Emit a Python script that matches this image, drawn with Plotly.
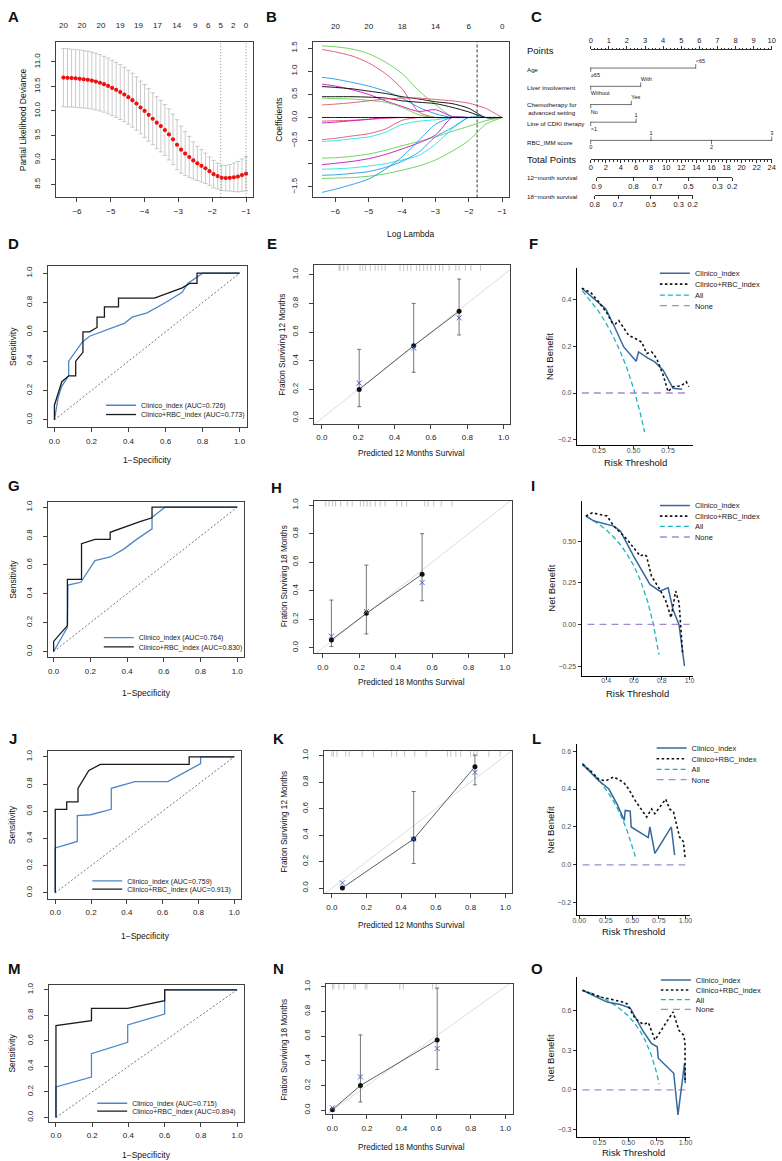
import plotly.graph_objects as go

W, H = 782, 1161
FONT = "Liberation Sans, Arial, Helvetica, sans-serif"

# ======================= DATA =======================
# ---- A: cross-validated partial likelihood deviance ----
A_loglam = [-6.40, -6.28, -6.16, -6.04, -5.92, -5.80, -5.68, -5.56, -5.44, -5.32, -5.20, -5.08,
            -4.96, -4.84, -4.72, -4.60, -4.48, -4.36, -4.24, -4.12, -4.00, -3.88, -3.76, -3.64,
            -3.52, -3.40, -3.28, -3.16, -3.04, -2.92, -2.80, -2.68, -2.56, -2.44, -2.32, -2.20,
            -2.08, -1.96, -1.84, -1.72, -1.60, -1.48, -1.36, -1.24, -1.12, -1.00]
A_dev = [10.68, 10.675, 10.67, 10.665, 10.655, 10.645, 10.635, 10.62, 10.60, 10.575, 10.545, 10.51,
         10.47, 10.43, 10.385, 10.335, 10.28, 10.22, 10.15, 10.07, 10.00, 9.92, 9.84, 9.76,
         9.69, 9.61, 9.52, 9.42, 9.31, 9.21, 9.13, 9.06, 8.99, 8.93, 8.88, 8.83,
         8.77, 8.71, 8.67, 8.635, 8.63, 8.635, 8.645, 8.66, 8.69, 8.72]
A_se = [0.595, 0.595, 0.59, 0.59, 0.59, 0.585, 0.585, 0.58, 0.58, 0.575, 0.57, 0.57,
        0.565, 0.56, 0.56, 0.555, 0.55, 0.55, 0.545, 0.54, 0.54, 0.535, 0.53, 0.53,
        0.525, 0.52, 0.52, 0.515, 0.51, 0.48, 0.45, 0.42, 0.38, 0.35, 0.33, 0.31,
        0.29, 0.28, 0.265, 0.255, 0.26, 0.27, 0.29, 0.31, 0.33, 0.35]
A_top_ticks = [-6.40, -5.85, -5.29, -4.72, -4.18, -3.62, -3.05, -2.50, -2.12, -1.75, -1.38, -1.00]
A_top_labels = ["20", "20", "20", "19", "19", "17", "14", "9", "6", "5", "2", "0"]
A_vlines = [-1.75, -1.00]

# ---- B: LASSO coefficient paths ----
B_loglam = [-6.4, -6.0, -5.5, -5.0, -4.5, -4.0, -3.5, -3.0, -2.5, -2.0, -1.5, -1.0]
B_paths = [
    [1.55, 1.53, 1.48, 1.38, 1.20, 0.95, 0.58, 0.28, 0.02, 0, 0, 0],
    [1.47, 1.42, 1.33, 1.18, 0.95, 0.62, 0.12, 0, 0, 0, 0, 0],
    [0.87, 0.83, 0.76, 0.68, 0.57, 0.42, 0.22, 0.08, 0, 0, 0, 0],
    [0.72, 0.68, 0.60, 0.50, 0.36, 0.24, 0.13, 0.17, 0.02, 0, 0, 0],
    [0.67, 0.65, 0.62, 0.57, 0.52, 0.45, 0.40, 0.34, 0.30, 0.20, 0.0, 0],
    [0.45, 0.45, 0.45, 0.44, 0.42, 0.36, 0.33, 0.30, 0.22, 0.12, 0.0, 0],
    [0.42, 0.41, 0.40, 0.37, 0.33, 0.22, 0.06, 0, 0, 0, 0, 0],
    [0.27, 0.29, 0.32, 0.36, 0.40, 0.42, 0.42, 0.39, 0.36, 0.31, 0.20, 0],
    [-0.48, -0.45, -0.40, -0.35, -0.25, -0.06, 0, 0, 0, 0, 0, 0],
    [-0.52, -0.50, -0.46, -0.42, -0.32, -0.15, -0.08, -0.05, 0, 0, 0, 0],
    [-0.08, -0.07, -0.06, -0.04, -0.02, 0, 0, 0, 0, 0, 0, 0],
    [-0.12, -0.10, -0.07, -0.04, 0, 0, 0, 0, 0, 0, 0, 0],
    [-0.88, -0.87, -0.84, -0.79, -0.71, -0.61, -0.52, -0.42, -0.30, -0.19, -0.07, 0],
    [-1.02, -0.99, -0.95, -0.89, -0.80, -0.68, -0.55, -0.38, 0, 0, 0, 0],
    [-1.12, -1.11, -1.09, -1.05, -1.00, -0.92, -0.82, -0.58, -0.25, 0, 0, 0],
    [-1.25, -1.24, -1.21, -1.17, -1.08, -0.95, -0.75, -0.42, -0.22, 0, 0, 0],
    [-1.32, -1.31, -1.30, -1.27, -1.22, -1.14, -1.05, -0.92, -0.73, -0.50, -0.15, 0],
    [-1.62, -1.55, -1.45, -1.33, -1.12, -0.85, -0.50, -0.15, 0, 0, 0, 0],
    [0, 0, 0, 0, 0, 0, 0, 0, 0, 0, 0, 0],
]
B_colors = ["#61D04F", "#DF536B", "#2297E6", "#CD0BBC", "#000000", "#000000", "#61D04F", "#DF536B",
            "#DF536B", "#28E2E5", "#DF536B", "#CD0BBC", "#61D04F", "#CD0BBC", "#28E2E5", "#2297E6",
            "#61D04F", "#2297E6", "#000000"]
B_top_ticks = [-6, -5, -4, -3, -2, -1]
B_top_labels = ["20", "20", "18", "14", "6", "0"]
B_vline = -1.75

# ---- C: nomogram ----
C_age_labels = ["<65", "≥65"]
C_age_points = [5.8, 0.0]
C_liver_labels = ["With", "Without"]
C_liver_points = [2.76, 0.0]
C_chemo_labels = ["Yes", "No"]
C_chemo_points = [2.24, 0.0]
C_cdki_labels = ["1", ">1"]
C_cdki_points = [2.51, 0.0]
C_rbc_labels = ["0", "1", "2", "3"]
C_rbc_points = [0.0, 3.33, 6.67, 10.0]
C_surv12_labels = ["0.9", "0.8", "0.7", "0.5", "0.3", "0.2"]
C_surv12_total = [0.78, 5.67, 8.80, 12.96, 16.80, 18.76]
C_surv18_labels = ["0.8", "0.7", "0.5", "0.3", "0.2"]
C_surv18_total = [0.52, 3.62, 7.99, 11.65, 13.53]

# ---- ROC curves ----
D_clin_fpr = [0, 0.02, 0.04, 0.077, 0.077, 0.15, 0.19, 0.27, 0.38, 0.42, 0.50, 0.60, 0.69, 0.72, 0.80, 1.0]
D_clin_tpr = [0, 0.15, 0.23, 0.30, 0.40, 0.53, 0.57, 0.61, 0.66, 0.70, 0.73, 0.80, 0.87, 0.93, 1.0, 1.0]
D_rbc_fpr = [0, 0, 0.04, 0.077, 0.115, 0.115, 0.154, 0.154, 0.19, 0.23, 0.23, 0.27, 0.27, 0.346, 0.346,
             0.54, 0.69, 0.73, 0.77, 0.77, 1.0]
D_rbc_tpr = [0, 0.10, 0.26, 0.30, 0.30, 0.40, 0.46, 0.60, 0.60, 0.63, 0.70, 0.70, 0.77, 0.77, 0.83,
             0.83, 0.90, 0.93, 0.93, 1.0, 1.0]
D_auc = ["0.726", "0.773"]

G_clin_fpr = [0, 0.075, 0.078, 0.148, 0.225, 0.308, 0.38, 0.452, 0.536, 0.536, 0.607, 1.0]
G_clin_tpr = [0, 0.168, 0.46, 0.48, 0.63, 0.655, 0.708, 0.777, 0.85, 0.93, 1.0, 1.0]
G_rbc_fpr = [0, 0, 0.075, 0.075, 0.152, 0.152, 0.225, 0.308, 0.308, 0.38, 0.47, 0.536, 0.536, 1.0]
G_rbc_tpr = [0, 0.07, 0.18, 0.50, 0.50, 0.747, 0.777, 0.777, 0.826, 0.86, 0.90, 0.926, 1.0, 1.0]
G_auc = ["0.764", "0.830"]

J_clin_fpr = [0, 0, 0.123, 0.123, 0.197, 0.313, 0.313, 0.445, 0.629, 0.812, 0.812, 1.0]
J_clin_tpr = [0, 0.33, 0.378, 0.568, 0.574, 0.614, 0.768, 0.817, 0.817, 0.95, 1.0, 1.0]
J_rbc_fpr = [0, 0, 0.064, 0.064, 0.127, 0.127, 0.1875, 0.252, 0.748, 0.748, 1.0]
J_rbc_tpr = [0, 0.614, 0.614, 0.669, 0.669, 0.768, 0.90, 0.944, 0.944, 1.0, 1.0]
J_auc = ["0.759", "0.913"]

M_clin_fpr = [0, 0, 0.196, 0.196, 0.396, 0.396, 0.6, 0.6, 1.0]
M_clin_tpr = [0, 0.239, 0.316, 0.499, 0.589, 0.725, 0.81, 1.0, 1.0]
M_rbc_fpr = [0, 0, 0.196, 0.196, 0.396, 0.6, 0.6, 1.0]
M_rbc_tpr = [0, 0.72, 0.758, 0.854, 0.854, 0.914, 1.0, 1.0]
M_auc = ["0.715", "0.894"]

# ---- Calibration ----
E_pred = [0.205, 0.505, 0.755]
E_obs = [0.200, 0.505, 0.745]
E_lo = [0.080, 0.320, 0.580]
E_hi = [0.480, 0.800, 0.970]
E_km = [0.245, 0.490, 0.700]
E_rug = [0.094, 0.10, 0.12, 0.143, 0.21, 0.225, 0.24, 0.266, 0.293, 0.31, 0.33, 0.348, 0.43, 0.45,
         0.47, 0.49, 0.52, 0.538, 0.56, 0.58, 0.60, 0.625, 0.647, 0.665, 0.70, 0.737, 0.755, 0.79,
         0.82, 0.873]

H_pred = [0.047, 0.239, 0.545]
H_obs = [0.056, 0.242, 0.516]
H_lo = [0.010, 0.098, 0.330]
H_hi = [0.335, 0.580, 0.800]
H_km = [0.082, 0.255, 0.458]
H_rug = [0.016, 0.034, 0.053, 0.07, 0.098, 0.134, 0.161, 0.206, 0.224, 0.243, 0.26, 0.288, 0.315,
         0.342, 0.406, 0.433, 0.46, 0.56, 0.578, 0.609, 0.65, 0.71]

K_pred = [0.061, 0.472, 0.825]
K_obs = [0.002, 0.371, 0.917]
K_lo = [0.001, 0.186, 0.780]
K_hi = [0.003, 0.730, 1.005]
K_km = [0.040, 0.370, 0.874]
K_rug = [0.0, 0.01, 0.03, 0.08, 0.10, 0.175, 0.24, 0.345, 0.374, 0.42, 0.478, 0.544, 0.667, 0.686,
         0.715, 0.743, 0.80, 0.819, 0.838, 0.905, 0.97]

N_pred = [0.0, 0.162, 0.606]
N_obs = [0.005, 0.200, 0.570]
N_lo = [0.004, 0.067, 0.330]
N_hi = [0.006, 0.610, 0.990]
N_km = [0.020, 0.270, 0.500]
N_rug = [0.0, 0.009, 0.038, 0.067, 0.124, 0.133, 0.19, 0.2, 0.39, 0.41, 0.58, 0.60]

# ---- Decision curves ----
F_all_t = [0.13, 0.20, 0.25, 0.30, 0.35, 0.40, 0.45, 0.50, 0.55, 0.58]
F_all_nb = [0.437, 0.387, 0.347, 0.300, 0.246, 0.183, 0.109, 0.020, -0.089, -0.167]
F_clin_t = [0.126, 0.214, 0.298, 0.357, 0.429, 0.519, 0.536, 0.607, 0.654, 0.714, 0.786, 0.852]
F_clin_nb = [0.448, 0.403, 0.360, 0.290, 0.197, 0.136, 0.176, 0.148, 0.133, 0.098, 0.020, 0.016]
F_rbc_t = [0.126, 0.190, 0.248, 0.310, 0.345, 0.369, 0.393, 0.429, 0.464, 0.512, 0.559, 0.595,
           0.631, 0.667, 0.714, 0.750, 0.786, 0.845, 0.881, 0.900]
F_rbc_nb = [0.448, 0.430, 0.390, 0.340, 0.300, 0.296, 0.310, 0.280, 0.247, 0.233, 0.218, 0.169,
            0.176, 0.148, 0.077, 0.006, 0.027, 0.031, 0.048, 0.027]
F_none_t = [0.126, 0.900]

I_all_t = [0.26, 0.30, 0.35, 0.40, 0.45, 0.50, 0.55, 0.60, 0.65, 0.70, 0.74, 0.78]
I_all_nb = [0.649, 0.629, 0.600, 0.567, 0.527, 0.480, 0.422, 0.350, 0.257, 0.133, 0.000, -0.182]
I_clin_t = [0.253, 0.312, 0.454, 0.502, 0.597, 0.715, 0.786, 0.846, 0.881, 0.924, 0.964]
I_clin_nb = [0.650, 0.620, 0.590, 0.560, 0.410, 0.240, 0.200, 0.220, 0.090, 0.000, -0.250]
I_rbc_t = [0.253, 0.300, 0.347, 0.406, 0.454, 0.550, 0.645, 0.668, 0.690, 0.726, 0.786, 0.830,
           0.867, 0.900, 0.925, 0.950]
I_rbc_nb = [0.650, 0.670, 0.660, 0.650, 0.590, 0.510, 0.410, 0.420, 0.410, 0.290, 0.210, 0.140,
            0.040, 0.200, 0.130, -0.170]
I_none_t = [0.265, 1.0]

L_all_t = [0.03, 0.10, 0.15, 0.20, 0.25, 0.30, 0.35, 0.40, 0.45, 0.50, 0.53]
L_all_nb = [0.536, 0.500, 0.471, 0.438, 0.400, 0.357, 0.308, 0.250, 0.182, 0.100, 0.042]
L_clin_t = [0.031, 0.186, 0.279, 0.356, 0.424, 0.433, 0.480, 0.489, 0.650, 0.665, 0.712, 0.867, 0.898]
L_clin_nb = [0.530, 0.443, 0.400, 0.320, 0.235, 0.287, 0.283, 0.200, 0.144, 0.200, 0.061, 0.200, 0.052]
L_rbc_t = [0.031, 0.108, 0.186, 0.247, 0.325, 0.418, 0.465, 0.526, 0.635, 0.681, 0.712, 0.814,
           0.851, 0.888, 0.944, 0.981, 0.997]
L_rbc_nb = [0.530, 0.495, 0.450, 0.443, 0.464, 0.435, 0.400, 0.340, 0.252, 0.295, 0.270, 0.347,
            0.295, 0.278, 0.148, 0.122, 0.035]
L_none_t = [0.031, 0.997]

O_all_t = [0.10, 0.20, 0.30, 0.40, 0.50, 0.55, 0.60, 0.65, 0.70, 0.74, 0.77]
O_all_nb = [0.756, 0.725, 0.686, 0.633, 0.560, 0.511, 0.450, 0.371, 0.267, 0.154, 0.043]
O_clin_t = [0.101, 0.316, 0.431, 0.517, 0.633, 0.704, 0.753, 0.762, 0.897, 0.934, 0.991, 0.997]
O_clin_nb = [0.754, 0.665, 0.646, 0.620, 0.440, 0.350, 0.326, 0.240, 0.126, -0.190, 0.200, 0.050]
O_rbc_t = [0.101, 0.259, 0.431, 0.489, 0.560, 0.633, 0.676, 0.733, 0.891, 0.943, 0.983, 0.995, 0.997]
O_rbc_nb = [0.754, 0.703, 0.670, 0.653, 0.540, 0.495, 0.510, 0.377, 0.590, 0.450, 0.414, 0.364, 0.075]
O_none_t = [0.101, 0.997]

# ======================= HELPERS =======================
layout = dict(width=W, height=H, autosize=False, margin=dict(l=0, r=0, t=0, b=0, pad=0),
              paper_bgcolor="white", plot_bgcolor="rgba(0,0,0,0)",
              font=dict(family=FONT, color="#1a1a1a"), showlegend=True)
annotations, shapes, traces = [], [], []


def xd(a, b):
    return [a / W, b / W]


def yd(t, b):
    return [1 - b / H, 1 - t / H]


def ax(n):
    return ("x" if n == 1 else f"x{n}"), ("y" if n == 1 else f"y{n}")


def akey(n):
    return ("xaxis" if n == 1 else f"xaxis{n}"), ("yaxis" if n == 1 else f"yaxis{n}")


def add_xy(xa, ya, **kw):
    kw.setdefault("showlegend", False)
    kw.setdefault("hoverinfo", "skip")
    traces.append(go.Scatter(xaxis=xa, yaxis=ya, **kw))


def add(n, **kw):
    xa, ya = ax(n)
    add_xy(xa, ya, **kw)


def text(px, py, s, size=8, angle=0, bold=False, anchor="center", color="#111"):
    annotations.append(dict(xref="paper", yref="paper", x=px / W, y=1 - py / H,
                            text=f"<b>{s}</b>" if bold else s, showarrow=False,
                            font=dict(size=size, family=FONT, color=color), textangle=angle,
                            xanchor=anchor, yanchor="middle", borderpad=0))


leg_count = [1]


def legend_at(text_px, py, size):
    leg_count[0] += 1
    name = f"legend{leg_count[0]}"
    layout[name] = dict(x=(text_px - 40) / W, y=1 - (py - 3) / H, xanchor="left", yanchor="middle",
                        bgcolor="rgba(0,0,0,0)", borderwidth=0, itemwidth=30, tracegroupgap=0,
                        font=dict(size=size, family=FONT, color="#1a1a1a"))
    return name


def rbase(n, box, xr, yr, xt, yt, xfmt=".1f", yfmt=".1f", xtext=None, ytext=None):
    l, r, t, b = box
    xk, yk = akey(n)
    xa, ya = ax(n)
    base = dict(showline=True, mirror=True, linecolor="#404040", linewidth=0.9, ticks="outside",
                ticklen=4, tickwidth=0.8, tickcolor="#404040", showgrid=False, zeroline=False,
                tickfont=dict(size=8, family=FONT, color="#1a1a1a"), fixedrange=True, tickmode="array")
    layout[xk] = dict(base, domain=xd(l, r), range=xr, anchor=ya, tickvals=xt, ticklabelstandoff=2)
    layout[yk] = dict(base, domain=yd(t, b), range=yr, anchor=xa, tickvals=yt, tickangle=-90,
                      ticklabelstandoff=8)
    if xtext is not None:
        layout[xk]["ticktext"] = xtext
    else:
        layout[xk]["tickformat"] = xfmt
    if ytext is not None:
        layout[yk]["ticktext"] = ytext
    else:
        layout[yk]["tickformat"] = yfmt


def ggaxes(n, box, xr, yr, xt, yt, xfmt, yfmt):
    l, r, t, b = box
    xk, yk = akey(n)
    xa, ya = ax(n)
    base = dict(showline=True, mirror=False, linecolor="#000", linewidth=1, ticks="outside",
                ticklen=3, tickwidth=0.8, tickcolor="#333", showgrid=False, zeroline=False,
                tickfont=dict(size=7, family=FONT, color="#4d4d4d"), fixedrange=True, tickmode="array")
    layout[xk] = dict(base, domain=xd(l, r), range=xr, anchor=ya, tickvals=xt, tickformat=xfmt,
                      ticklabelstandoff=-5)
    layout[yk] = dict(base, domain=yd(t, b), range=yr, anchor=xa, tickvals=yt, tickformat=yfmt,
                      ticklabelstandoff=0)


# ======================= PANEL A =======================
rbase(1, (52, 251, 37, 193), [-6.61, -0.80], [8.24, 11.41], [-6, -5, -4, -3, -2, -1],
      [8.5, 9.0, 9.5, 10.0, 10.5, 11.0], xfmt="d")
layout["xaxis16"] = dict(overlaying="x", side="top", anchor="y", range=[-6.61, -0.80], tickmode="array",
                         tickvals=A_top_ticks, ticktext=A_top_labels, ticks="", showline=False,
                         showgrid=False, zeroline=False, tickfont=dict(size=8, family=FONT, color="#1a1a1a"),
                         ticklabelstandoff=11, fixedrange=True)
add_xy("x16", "y", x=[A_top_ticks[0], A_top_ticks[-1]], y=[A_dev[0], A_dev[0]], mode="markers",
       marker=dict(opacity=0))
for v in A_vlines:
    shapes.append(dict(type="line", xref="x", yref="y domain", x0=v, x1=v, y0=0, y1=1,
                       line=dict(color="#777", width=0.8, dash="1px,2px")))
add(1, x=A_loglam, y=A_dev, mode="markers", marker=dict(color="#ee1111", size=4.2),
    error_y=dict(type="data", array=A_se, color="#bdbdbd", thickness=0.8, width=2.2))
text(18, 115, "Partial Likelihood Deviance", size=8.5, angle=-90)
text(9, 12, "A", size=15, bold=True)

# ======================= PANEL B =======================
rbase(2, (311.7, 511, 37.3, 193.3), [-6.68, -0.78], [-1.73, 1.63], [-6, -5, -4, -3, -2, -1],
      [1.5, 1.0, 0.5, 0.0, -0.5, -1.0, -1.5], xfmt="d",
      ytext=["1.5", "1.0", "0.5", "0.0", "\u22120.5", "", "\u22121.5"])
layout["xaxis17"] = dict(overlaying="x2", side="top", anchor="y2", range=[-6.68, -0.78], tickmode="array",
                         tickvals=B_top_ticks, ticktext=B_top_labels, ticks="", showline=False,
                         showgrid=False, zeroline=False, tickfont=dict(size=8, family=FONT, color="#1a1a1a"),
                         ticklabelstandoff=11, fixedrange=True)
add_xy("x17", "y2", x=[B_top_ticks[0], B_top_ticks[-1]], y=[0, 0], mode="markers", marker=dict(opacity=0))
for vals, col in zip(B_paths, B_colors):
    add(2, x=B_loglam, y=vals, mode="lines", line=dict(color=col, width=0.9, shape="spline", smoothing=0.7))
shapes.append(dict(type="line", xref="x2", yref="y2 domain", x0=B_vline, x1=B_vline, y0=0, y1=1,
                   line=dict(color="#222", width=0.9, dash="3px,2px")))
text(276.7, 115, "Coefficients", size=8.5, angle=-90)
text(411, 230, "Log Lambda", size=8.5)
text(270, 12, "B", size=15, bold=True)

# ======================= PANEL C (nomogram) =======================
P0, P1 = 593.3, 776.7
ppp = (P1 - P0) / 10.0
layout["xaxis3"] = dict(domain=xd(520, 782), range=[-(P0 - 520) / ppp, 10 + (782 - P1) / ppp],
                        visible=False, fixedrange=True, anchor="y3")
layout["yaxis3"] = dict(domain=yd(25, 215), range=[215, 25], visible=False, fixedrange=True, anchor="x3")

nomo_axis_style = dict(showline=True, linecolor="#333", linewidth=0.7, ticks="outside", ticklen=3,
                       tickwidth=0.7, tickcolor="#333", showgrid=False, zeroline=False, fixedrange=True,
                       tickfont=dict(size=7.5, family=FONT, color="#1a1a1a"), anchor="free")
layout["xaxis18"] = dict(nomo_axis_style, domain=xd(P0, P1), range=[0, 10], position=1 - 44.3 / H,
                         side="top", dtick=1, tick0=0, ticklabelstandoff=0,
                         minor=dict(ticks="outside", dtick=0.2, ticklen=1.6, tickwidth=0.5, tickcolor="#333"))
add_xy("x18", "y3", x=[0, 10], y=[44, 44], mode="markers", marker=dict(opacity=0))
layout["xaxis19"] = dict(nomo_axis_style, domain=xd(P0, P1), range=[0, 24], position=1 - 155 / H,
                         side="bottom", dtick=2, tick0=0, ticklabelstandoff=-2,
                         minor=dict(ticks="outside", dtick=0.5, ticklen=1.6, tickwidth=0.5, tickcolor="#333"))
add_xy("x19", "y3", x=[0, 24], y=[155, 155], mode="markers", marker=dict(opacity=0))


def tp_px(v):
    return P0 + v * (P1 - P0) / 24.0


for k, (labs, tot, rowpx) in zip((20, 21), ((C_surv12_labels, C_surv12_total, 173.0),
                                            (C_surv18_labels, C_surv18_total, 191.0))):
    layout[f"xaxis{k}"] = dict(nomo_axis_style, domain=xd(tp_px(min(tot)), tp_px(max(tot))),
                               range=[min(tot), max(tot)], position=1 - rowpx / H, side="bottom",
                               tickmode="array", tickvals=tot, ticktext=labs, ticklabelstandoff=-1)
    add_xy(f"x{k}", "y3", x=[min(tot), max(tot)], y=[rowpx, rowpx], mode="markers", marker=dict(opacity=0))

nomo_rows = [
    (C_age_labels, C_age_points, ["up", "down"], 63.3),
    (C_liver_labels, C_liver_points, ["up", "down"], 81.7),
    (C_chemo_labels, C_chemo_points, ["up", "down"], 100.0),
    (C_cdki_labels, C_cdki_points, ["up", "down"], 117.7),
    (C_rbc_labels, C_rbc_points, ["down", "up", "down", "up"], 136.0),
]
for labs, pts, sides, ry in nomo_rows:
    add(3, x=[min(pts), max(pts)], y=[ry, ry], mode="lines", line=dict(color="#333", width=0.7))
    add(3, x=pts, y=[ry - 1.6 if s == "up" else ry + 1.6 for s in sides], mode="markers",
        marker=dict(symbol="line-ns-open", size=3.2, color="#333", line=dict(color="#333", width=0.7)))
    add(3, x=pts, y=[ry - 6.8 if s == "up" else ry + 7.6 for s in sides], mode="text", text=labs,
        textposition=["middle center" if len(lb) == 1 else "middle right" for lb in labs],
        textfont=dict(size=5.6, family=FONT, color="#1a1a1a"), cliponaxis=False)

text(528, 45.7, "Points", size=9.5, anchor="left")
text(528, 65.0, "Age", size=6.2, anchor="left")
text(528, 83.3, "Liver involvement", size=6.2, anchor="left")
text(528, 104.0, "Chemotherapy for<br>advanced setting", size=6.2, anchor="left")
text(528, 119.3, "Line of CDKI therapy", size=6.2, anchor="left")
text(528, 137.7, "RBC_IMM score", size=6.2, anchor="left")
text(528, 155.0, "Total Points", size=9.5, anchor="left")
text(528, 173.7, "12\u2212month survival", size=6.2, anchor="left")
text(528, 192.0, "18\u2212month survival", size=6.2, anchor="left")
text(538, 12, "C", size=15, bold=True)

# ======================= ROC panels =======================
ROC_BLUE = "#4f86c6"
ROC_BLACK = "#1a1a1a"
roc_specs = [
    (4, (43.3, 245, 262.3, 424), [-0.036, 1.039], [-0.050, 1.048], D_clin_fpr, D_clin_tpr, D_rbc_fpr,
     D_rbc_tpr, D_auc, (137.3, 405.0, 414.3), (144, 457), "D", (9, 240)),
    (7, (43.3, 242.3, 499, 655), [-0.032, 1.038], [-0.039, 1.037], G_clin_fpr, G_clin_tpr, G_rbc_fpr,
     G_rbc_tpr, G_auc, (135.0, 638.3, 647.7), (143, 690.7), "G", (9, 483)),
    (10, (43.3, 239.3, 749.3, 897.7), [-0.042, 1.039], [-0.044, 1.042], J_clin_fpr, J_clin_tpr, J_rbc_fpr,
     J_rbc_tpr, J_auc, (123.3, 882.7, 891.0), (142, 935), "J", (8, 737)),
    (13, (44.3, 241.7, 984.3, 1121.5), [-0.040, 1.036], [-0.033, 1.037], M_clin_fpr, M_clin_tpr, M_rbc_fpr,
     M_rbc_tpr, M_auc, (128.3, 1106.0, 1114.0), (143, 1155), "M", (10, 968)),
]
for n, box, xr, yr, cf, ct, rf, rt, auc, leg, xl, lab, labpos in roc_specs:
    ticks = [0, 0.2, 0.4, 0.6, 0.8, 1.0]
    rbase(n, box, xr, yr, ticks, ticks)
    add(n, x=[0, 1], y=[0, 1], mode="lines", line=dict(color="#555", width=0.8, dash="2px,2px"))
    add(n, x=cf, y=ct, mode="lines", line=dict(color=ROC_BLUE, width=1.3), showlegend=True,
        name=f"Clinico_index (AUC={auc[0]})", legend=legend_at(leg[0], leg[1], 7))
    add(n, x=rf, y=rt, mode="lines", line=dict(color=ROC_BLACK, width=1.3), showlegend=True,
        name=f"Clinico+RBC_index (AUC={auc[1]})", legend=legend_at(leg[0], leg[2], 7))
    text(7.3, (box[2] + box[3]) / 2, "Sensitivity", size=8.5, angle=-90)
    text(xl[0], xl[1], "1\u2212Specificity", size=8.5)
    text(labpos[0], labpos[1], lab, size=15, bold=True)

# ======================= Calibration panels =======================
cal_specs = [
    (5, (313.3, 511.7, 261, 420.7), [-0.042, 1.036], [-0.040, 1.069], E_pred, E_obs, E_lo, E_hi, E_km, E_rug,
     "12", (280.7, 341), (412, 450), "E", (270, 240)),
    (8, (313.3, 514, 497.7, 651), [-0.047, 1.041], [-0.037, 1.032], H_pred, H_obs, H_lo, H_hi, H_km, H_rug,
     "18", (283.3, 574), (412, 680), "H", (275, 485)),
    (11, (323.3, 514, 749.3, 892.3), [-0.044, 1.041], [-0.040, 1.035], K_pred, K_obs, K_lo, K_hi, K_km, K_rug,
     "12", (283, 820), (412, 924.3), "K", (277, 737)),
    (14, (325, 514.3, 983.3, 1114), [-0.038, 1.043], [-0.032, 1.022], N_pred, N_obs, N_lo, N_hi, N_km, N_rug,
     "18", (283, 1049), (412, 1147.3), "N", (277, 968)),
]
for n, box, xr, yr, pred, obs, lo, hi, km, rug, mon, yl, xl, lab, labpos in cal_specs:
    ticks = [0, 0.2, 0.4, 0.6, 0.8, 1.0]
    rbase(n, box, xr, yr, ticks, ticks)
    add(n, x=[-0.2, 1.2], y=[-0.2, 1.2], mode="lines", line=dict(color="#d4d4d4", width=0.8))
    rug_y = yr[1] - 0.022
    add(n, x=rug, y=[rug_y] * len(rug), mode="markers",
        marker=dict(symbol="line-ns-open", size=4, color="#9a9a9a", line=dict(color="#9a9a9a", width=0.6)))
    add(n, x=pred, y=obs, mode="lines+markers", line=dict(color="#333", width=0.8),
        marker=dict(color="#111", size=5),
        error_y=dict(type="data", symmetric=False, array=[h - o for h, o in zip(hi, obs)],
                     arrayminus=[o - l for o, l in zip(obs, lo)], color="#555", thickness=0.8, width=2))
    add(n, x=pred, y=km, mode="markers",
        marker=dict(symbol="x-thin-open", size=5, color="#4a63c8", line=dict(color="#4a63c8", width=1)))
    text(yl[0], yl[1], f"Fration Surviving {mon} Months", size=8.2, angle=-90)
    text(xl[0], xl[1], f"Predicted {mon} Months Survival", size=8.2)
    text(labpos[0], labpos[1], lab, size=15, bold=True)

# ======================= Decision curve panels =======================
DCA_BLUE = "#36689e"
DCA_CYAN = "#1fb3be"
DCA_PURPLE = "#a58ad0"
dca_specs = [
    (6, (579.3, 697.3, 264.3, 442.3), [0.09, 0.933], [-0.224, 0.534], [0.25, 0.50, 0.75], ".2f",
     [-0.2, 0.0, 0.2, 0.4], ".1f", F_all_t, F_all_nb, F_clin_t, F_clin_nb, F_rbc_t, F_rbc_nb, F_none_t,
     (698.3, [272.3, 283.3, 294.3, 305.0]), (551.7, 353), (638.3, 459), "F", (535, 240)),
    (9, (584, 697.3, 497.7, 674), [0.222, 1.028], [-0.31, 0.743], [0.4, 0.6, 0.8, 1.0], ".1f",
     [-0.25, 0.0, 0.25, 0.5], ".2f", I_all_t, I_all_nb, I_clin_t, I_clin_nb, I_rbc_t, I_rbc_nb, I_none_t,
     (698.3, [505.7, 516.3, 526.7, 537.3]), (553.3, 586), (640.7, 691.7), "I", (535, 483)),
    (12, (579, 694, 741.7, 914.3), [-0.025, 1.044], [-0.266, 0.64], [0, 0.25, 0.5, 0.75, 1.0], ".2f",
     [-0.2, 0.0, 0.2, 0.4, 0.6], ".1f", L_all_t, L_all_nb, L_clin_t, L_clin_nb, L_rbc_t, L_rbc_nb, L_none_t,
     (695.0, [749.3, 760.0, 770.7, 781.0]), (553, 828), (636.5, 930.7), "L", (538, 737)),
    (15, (579.3, 694, 976.7, 1137.3), [0.052, 1.04], [-0.36, 0.851], [0.25, 0.5, 0.75, 1.0], ".2f",
     [-0.3, 0.0, 0.3, 0.6], ".1f", O_all_t, O_all_nb, O_clin_t, O_clin_nb, O_rbc_t, O_rbc_nb, O_none_t,
     (699.3, [982.3, 992.3, 1002.0, 1011.7]), (553, 1057), (636.5, 1152.7), "O", (539, 968)),
]
for (n, box, xr, yr, xt, xf, yt, yf, at, anb, ct, cnb, rt, rnb, nt, leg, yl, xl, lab, labpos) in dca_specs:
    ggaxes(n, box, xr, yr, xt, yt, xf, yf)
    tx, lys = leg
    add(n, x=at, y=anb, mode="lines", line=dict(color=DCA_CYAN, width=1.3, dash="5px,3px"),
        showlegend=True, name="All", legend=legend_at(tx, lys[2], 7.5))
    add(n, x=nt, y=[0, 0], mode="lines", line=dict(color=DCA_PURPLE, width=1.3, dash="7px,5px"),
        showlegend=True, name="None", legend=legend_at(tx, lys[3], 7.5))
    add(n, x=ct, y=cnb, mode="lines", line=dict(color=DCA_BLUE, width=1.5),
        showlegend=True, name="Clinico_index", legend=legend_at(tx, lys[0], 7.5))
    add(n, x=rt, y=rnb, mode="lines", line=dict(color="#111", width=1.6, dash="2.5px,2.5px"),
        showlegend=True, name="Clinico+RBC_index", legend=legend_at(tx, lys[1], 7.5))
    text(yl[0], yl[1], "Net Benefit", size=9.5, angle=-90)
    text(xl[0], xl[1], "Risk Threshold", size=9.5)
    text(labpos[0], labpos[1], lab, size=15, bold=True)

layout["annotations"] = annotations
layout["shapes"] = shapes
fig = go.Figure(data=traces, layout=layout)
fig.write_html("out.html")
